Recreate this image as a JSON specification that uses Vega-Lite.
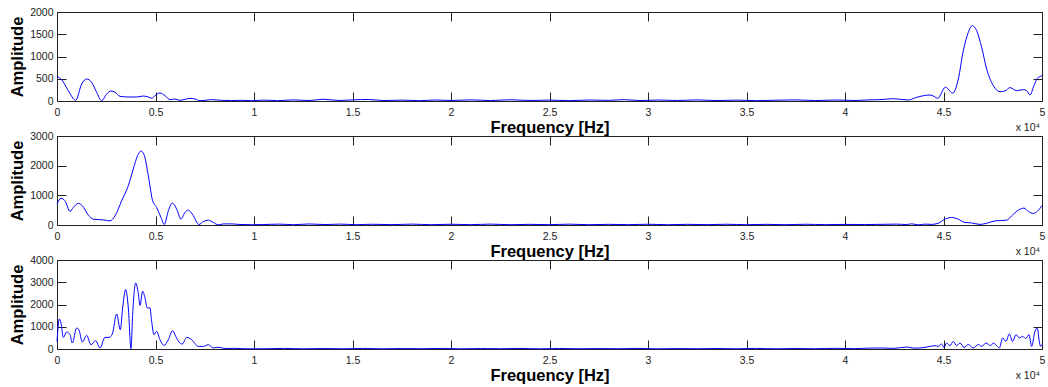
{
  "$schema": "https://vega.github.io/schema/vega-lite/v6.json",
  "background": "white",
  "padding": {"left": 9, "top": 6, "right": 4, "bottom": 0},
  "spacing": 35,
  "bounds": "flush",
  "config": {
    "view": {"stroke": "#222222", "strokeWidth": 1},
    "axis": {
      "grid": false,
      "domainColor": "#222222",
      "tickColor": "#222222",
      "labelColor": "#222222",
      "labelFont": "Liberation Sans",
      "labelFontSize": 10.5,
      "titleFont": "Liberation Sans",
      "titleFontSize": 16.5,
      "titleFontWeight": "bold",
      "titleColor": "#000000",
      "tickSize": -9,
      "labelFlush": false,
      "labelOverlap": false
    },
    "axisX": {"labelPadding": 15, "titlePadding": 1.5},
    "axisY": {"labelPadding": 13, "titlePadding": 4, "format": "d"}
  },
  "datasets": {
    "p1": [
      {"f":0,"a":555},{"f":237,"a":479},{"f":575,"a":232},{"f":949,"a":16},{"f":1252,"a":382},{"f":1506,"a":494},{"f":1759,"a":419},{"f":2013,"a":195},{"f":2266,"a":7},{"f":2520,"a":157},{"f":2741,"a":225},{"f":2944,"a":195},{"f":3198,"a":105},{"f":3620,"a":90},{"f":4045,"a":90},{"f":4381,"a":112},{"f":4635,"a":90},{"f":4804,"a":60},{"f":4975,"a":120},{"f":5228,"a":180},{"f":5482,"a":120},{"f":5736,"a":30},{"f":5990,"a":45},{"f":6243,"a":15},{"f":6497,"a":38},{"f":6751,"a":60},{"f":7005,"a":45},{"f":7259,"a":7},{"f":7512,"a":15},{"f":7851,"a":30},{"f":8360,"a":15},{"f":8867,"a":10},{"f":9375,"a":15},{"f":9883,"a":8},
      {"f":10500,"a":20},{"f":11200,"a":8},{"f":12000,"a":25},{"f":12800,"a":10},{"f":13500,"a":40},{"f":14300,"a":12},{"f":15000,"a":25},{"f":15800,"a":35},{"f":16600,"a":10},{"f":17500,"a":20},{"f":18400,"a":8},{"f":19200,"a":22},{"f":20000,"a":12},{"f":21000,"a":25},{"f":22000,"a":10},{"f":23000,"a":28},{"f":24000,"a":12},{"f":25000,"a":20},{"f":26000,"a":8},{"f":27000,"a":22},{"f":28000,"a":15},{"f":28800,"a":30},{"f":29600,"a":10},{"f":30500,"a":22},{"f":31500,"a":12},{"f":32500,"a":25},{"f":33500,"a":10},{"f":34500,"a":20},{"f":35500,"a":8},{"f":36500,"a":18},{"f":37500,"a":25},{"f":38500,"a":10},{"f":39500,"a":22},{"f":40500,"a":12},{"f":41200,"a":25},
      {"f":41775,"a":30},{"f":42452,"a":52},{"f":43213,"a":22},{"f":43636,"a":82},{"f":44313,"a":135},{"f":44516,"a":105},{"f":44703,"a":60},{"f":45100,"a":310},{"f":45470,"a":175},{"f":45752,"a":494},{"f":46006,"a":1131},{"f":46260,"a":1543},{"f":46463,"a":1693},{"f":46684,"a":1581},{"f":46937,"a":1206},{"f":47191,"a":719},{"f":47529,"a":344},{"f":47867,"a":210},{"f":48121,"a":225},{"f":48375,"a":300},{"f":48713,"a":232},{"f":49052,"a":255},{"f":49221,"a":232},{"f":49390,"a":135},{"f":49593,"a":344},{"f":49762,"a":509},{"f":49931,"a":555},{"f":50000,"a":570}
    ],
    "p2": [
      {"f":0,"a":705},{"f":203,"a":898},{"f":406,"a":817},{"f":660,"a":457},{"f":829,"a":593},{"f":1083,"a":729},{"f":1286,"a":648},{"f":1591,"a":332},{"f":1845,"a":197},{"f":2350,"a":173},{"f":2690,"a":139},{"f":2944,"a":308},{"f":3282,"a":817},{"f":3620,"a":1326},{"f":3874,"a":1892},{"f":4094,"a":2343},{"f":4264,"a":2492},{"f":4433,"a":2343},{"f":4635,"a":1665},{"f":4855,"a":817},{"f":5058,"a":593},{"f":5279,"a":254},{"f":5448,"a":17},{"f":5651,"a":478},{"f":5854,"a":739},{"f":6075,"a":536},{"f":6294,"a":197},{"f":6497,"a":424},{"f":6667,"a":502},{"f":6870,"a":366},{"f":7208,"a":17},{"f":7428,"a":119},{"f":7682,"a":163},{"f":7935,"a":85},{"f":8189,"a":5},{"f":8443,"a":37},{"f":8867,"a":37},{"f":9290,"a":17},{"f":9883,"a":10},
      {"f":10500,"a":15},{"f":11300,"a":30},{"f":12000,"a":10},{"f":12800,"a":35},{"f":13600,"a":15},{"f":14400,"a":30},{"f":15200,"a":10},{"f":16000,"a":25},{"f":17000,"a":12},{"f":18000,"a":30},{"f":19000,"a":10},{"f":20000,"a":25},{"f":21000,"a":12},{"f":22000,"a":30},{"f":23000,"a":10},{"f":24000,"a":22},{"f":25000,"a":12},{"f":26000,"a":28},{"f":27000,"a":10},{"f":28000,"a":22},{"f":29000,"a":12},{"f":30000,"a":25},{"f":31000,"a":10},{"f":32000,"a":22},{"f":33000,"a":12},{"f":34000,"a":25},{"f":35000,"a":10},{"f":36000,"a":22},{"f":37000,"a":10},{"f":38000,"a":25},{"f":39000,"a":12},{"f":40000,"a":20},{"f":41000,"a":15},
      {"f":41607,"a":20},{"f":42622,"a":30},{"f":43130,"a":15},{"f":43383,"a":40},{"f":43720,"a":5},{"f":44059,"a":30},{"f":44399,"a":20},{"f":44735,"a":60},{"f":45075,"a":197},{"f":45414,"a":254},{"f":45752,"a":197},{"f":46091,"a":85},{"f":46429,"a":70},{"f":46852,"a":20},{"f":47191,"a":60},{"f":47613,"a":139},{"f":48206,"a":163},{"f":48459,"a":308},{"f":48798,"a":502},{"f":49086,"a":570},{"f":49305,"a":458},{"f":49559,"a":390},{"f":49762,"a":458},{"f":50000,"a":660}
    ],
    "p3": [
      {"f":0,"a":340},{"f":118,"a":1350},{"f":203,"a":1170},{"f":321,"a":522},{"f":490,"a":765},{"f":660,"a":644},{"f":778,"a":270},{"f":998,"a":945},{"f":1117,"a":850},{"f":1286,"a":315},{"f":1506,"a":612},{"f":1726,"a":193},{"f":1963,"a":373},{"f":2183,"a":45},{"f":2436,"a":522},{"f":2640,"a":522},{"f":2808,"a":675},{"f":3029,"a":1575},{"f":3214,"a":868},{"f":3333,"a":1845},{"f":3485,"a":2670},{"f":3620,"a":1845},{"f":3756,"a":13},{"f":3840,"a":1545},{"f":3992,"a":2970},{"f":4127,"a":2500},{"f":4213,"a":1960},{"f":4348,"a":2595},{"f":4467,"a":2300},{"f":4585,"a":1845},{"f":4720,"a":1845},{"f":4805,"a":1240},{"f":4923,"a":644},{"f":5058,"a":795},{"f":5228,"a":418},{"f":5448,"a":162},{"f":5651,"a":418},{"f":5872,"a":825},{"f":6025,"a":570},{"f":6193,"a":315},{"f":6362,"a":225},{"f":6582,"a":522},{"f":6836,"a":418},{"f":7174,"a":117},{"f":7428,"a":117},{"f":7682,"a":193},{"f":7935,"a":50},{"f":8189,"a":80},{"f":8528,"a":20},{"f":9036,"a":30},{"f":9543,"a":10},{"f":9965,"a":10},
      {"f":10500,"a":10},{"f":11500,"a":25},{"f":12500,"a":8},{"f":13500,"a":20},{"f":14500,"a":10},{"f":15500,"a":25},{"f":16500,"a":8},{"f":17500,"a":20},{"f":18500,"a":12},{"f":19500,"a":25},{"f":20500,"a":8},{"f":21500,"a":20},{"f":22500,"a":12},{"f":23500,"a":25},{"f":24500,"a":8},{"f":25500,"a":22},{"f":26500,"a":10},{"f":27500,"a":20},{"f":28500,"a":12},{"f":29500,"a":25},{"f":30500,"a":8},{"f":31500,"a":20},{"f":32500,"a":12},{"f":33500,"a":22},{"f":34500,"a":10},{"f":35500,"a":25},{"f":36500,"a":8},{"f":37500,"a":22},{"f":38500,"a":12},{"f":39500,"a":30},{"f":40500,"a":15},{"f":41200,"a":40},
      {"f":41775,"a":45},{"f":42500,"a":30},{"f":43130,"a":90},{"f":43500,"a":40},{"f":43806,"a":45},{"f":44313,"a":117},{"f":44567,"a":150},{"f":44735,"a":117},{"f":44906,"a":225},{"f":45023,"a":70},{"f":45158,"a":270},{"f":45329,"a":150},{"f":45498,"a":342},{"f":45669,"a":150},{"f":45838,"a":270},{"f":46041,"a":70},{"f":46260,"a":200},{"f":46514,"a":45},{"f":46768,"a":200},{"f":46937,"a":117},{"f":47156,"a":270},{"f":47395,"a":150},{"f":47529,"a":270},{"f":47699,"a":150},{"f":47832,"a":45},{"f":48003,"a":495},{"f":48171,"a":342},{"f":48340,"a":675},{"f":48511,"a":342},{"f":48679,"a":645},{"f":48848,"a":495},{"f":49018,"a":570},{"f":49170,"a":470},{"f":49340,"a":645},{"f":49475,"a":117},{"f":49643,"a":795},{"f":49762,"a":945},{"f":49863,"a":342},{"f":49930,"a":120},{"f":50000,"a":200}
    ]
  },
  "vconcat": [
    {
      "width": 985, "height": 89,
      "layer": [
        {
          "data": {"name": "p1"},
          "mark": {"type": "line", "color": "#0000ff", "strokeWidth": 1, "interpolate": "monotone"},
          "encoding": {
            "x": {"field": "f", "type": "quantitative", "scale": {"domain": [0, 50000], "nice": false, "zero": false},
                  "axis": {"values": [0,5000,10000,15000,20000,25000,30000,35000,40000,45000,50000], "labelExpr": "'' + datum.value / 10000", "title": "Frequency [Hz]"}},
            "y": {"field": "a", "type": "quantitative", "scale": {"domain": [0, 2000], "nice": false},
                  "axis": {"values": [0,500,1000,1500,2000], "title": "Amplitude"}}
          }
        },
        {
          "data": {"values": [{"note": "x 10⁴"}]},
          "mark": {"type": "text", "align": "right", "baseline": "middle", "dy": 27, "dx": -2, "fontSize": 10.5, "font": "Liberation Sans", "color": "#222222"},
          "encoding": {
            "text": {"field": "note"},
            "x": {"datum": 50000, "type": "quantitative",
                  "axis": {"orient": "top", "values": [0,5000,10000,15000,20000,25000,30000,35000,40000,45000,50000], "labels": false, "title": null}},
            "y": {"datum": 0, "type": "quantitative",
                  "axis": {"orient": "right", "values": [0,500,1000,1500,2000], "labels": false, "title": null}}
          }
        }
      ],
      "resolve": {"axis": {"x": "independent", "y": "independent"}}
    },
    {
      "width": 985, "height": 89,
      "layer": [
        {
          "data": {"name": "p2"},
          "mark": {"type": "line", "color": "#0000ff", "strokeWidth": 1, "interpolate": "monotone"},
          "encoding": {
            "x": {"field": "f", "type": "quantitative", "scale": {"domain": [0, 50000], "nice": false, "zero": false},
                  "axis": {"values": [0,5000,10000,15000,20000,25000,30000,35000,40000,45000,50000], "labelExpr": "'' + datum.value / 10000", "title": "Frequency [Hz]"}},
            "y": {"field": "a", "type": "quantitative", "scale": {"domain": [0, 3000], "nice": false},
                  "axis": {"values": [0,1000,2000,3000], "title": "Amplitude"}}
          }
        },
        {
          "data": {"values": [{"note": "x 10⁴"}]},
          "mark": {"type": "text", "align": "right", "baseline": "middle", "dy": 27, "dx": -2, "fontSize": 10.5, "font": "Liberation Sans", "color": "#222222"},
          "encoding": {
            "text": {"field": "note"},
            "x": {"datum": 50000, "type": "quantitative",
                  "axis": {"orient": "top", "values": [0,5000,10000,15000,20000,25000,30000,35000,40000,45000,50000], "labels": false, "title": null}},
            "y": {"datum": 0, "type": "quantitative",
                  "axis": {"orient": "right", "values": [0,1000,2000,3000], "labels": false, "title": null}}
          }
        }
      ],
      "resolve": {"axis": {"x": "independent", "y": "independent"}}
    },
    {
      "width": 985, "height": 89,
      "layer": [
        {
          "data": {"name": "p3"},
          "mark": {"type": "line", "color": "#0000ff", "strokeWidth": 1, "interpolate": "monotone"},
          "encoding": {
            "x": {"field": "f", "type": "quantitative", "scale": {"domain": [0, 50000], "nice": false, "zero": false},
                  "axis": {"values": [0,5000,10000,15000,20000,25000,30000,35000,40000,45000,50000], "labelExpr": "'' + datum.value / 10000", "title": "Frequency [Hz]"}},
            "y": {"field": "a", "type": "quantitative", "scale": {"domain": [0, 4000], "nice": false},
                  "axis": {"values": [0,1000,2000,3000,4000], "title": "Amplitude"}}
          }
        },
        {
          "data": {"values": [{"note": "x 10⁴"}]},
          "mark": {"type": "text", "align": "right", "baseline": "middle", "dy": 27, "dx": -2, "fontSize": 10.5, "font": "Liberation Sans", "color": "#222222"},
          "encoding": {
            "text": {"field": "note"},
            "x": {"datum": 50000, "type": "quantitative",
                  "axis": {"orient": "top", "values": [0,5000,10000,15000,20000,25000,30000,35000,40000,45000,50000], "labels": false, "title": null}},
            "y": {"datum": 0, "type": "quantitative",
                  "axis": {"orient": "right", "values": [0,1000,2000,3000,4000], "labels": false, "title": null}}
          }
        }
      ],
      "resolve": {"axis": {"x": "independent", "y": "independent"}}
    }
  ]
}
